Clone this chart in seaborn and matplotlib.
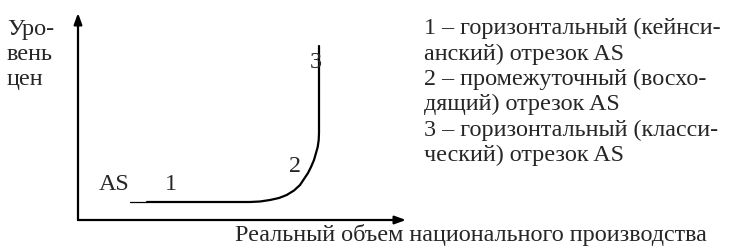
import matplotlib
matplotlib.use("Agg")
import matplotlib.pyplot as plt
import seaborn as sns
import pandas as pd

sns.set_theme(style="white")
plt.rcParams["font.family"] = ["Liberation Serif", "DejaVu Serif"]

# Aggregate supply curve (output, price level), origin at the axes corner
as_output = [69, 172, 182, 192, 201, 208.7, 216, 222, 226, 230, 233, 236, 238, 239.7, 240.7, 241, 241]
as_price = [18, 18, 18.5, 20, 22, 25, 29.5, 35, 41, 47, 53, 60, 67, 73, 80, 87, 174]
# short thin lead-in on the left of the curve
lead_output = [52, 69]
lead_price = [18, 18]

y_label_lines = ["Уро-", "вень", "цен"]
x_label = "Реальный объем национального производства"
legend_lines = [
    "1 – горизонтальный (кейнси-",
    "анский) отрезок AS",
    "2 – промежуточный (восхо-",
    "дящий) отрезок AS",
    "3 – горизонтальный (класси-",
    "ческий) отрезок AS",
]
segment_labels = ["1", "2", "3"]

FS = 17.4

fig = plt.figure(figsize=(7.3, 2.52), dpi=100)
ax = fig.add_axes([0, 0, 1, 1])
# axes origin sits at pixel (78, 220); one data unit = one pixel
ax.set_xlim(-78, 652)
ax.set_ylim(-32, 220)
ax.axis("off")

curve = pd.DataFrame({"output": as_output, "price": as_price})
lead = pd.DataFrame({"output": lead_output, "price": lead_price})
sns.lineplot(data=curve, x="output", y="price", sort=False, color="black",
             linewidth=1.6, ax=ax, estimator=None)
sns.lineplot(data=lead, x="output", y="price", sort=False, color="black",
             linewidth=0.9, ax=ax, estimator=None)

# coordinate axes with arrow heads
arrow = dict(arrowstyle="-|>,head_length=0.55,head_width=0.2", color="black",
             lw=1.6, shrinkA=0, shrinkB=0)
ax.annotate("", xy=(0, 207), xytext=(0, 0), arrowprops=arrow)
ax.annotate("", xy=(328, 0), xytext=(0, 0), arrowprops=arrow)

ax.text(21, 30, "AS", fontsize=FS, ha="left", va="baseline")
ax.text(87, 30, segment_labels[0], fontsize=FS, ha="left", va="baseline")
ax.text(211, 48, segment_labels[1], fontsize=FS, ha="left", va="baseline")
ax.text(232, 152, segment_labels[2], fontsize=FS, ha="left", va="baseline")

for i, line in enumerate(y_label_lines):
    ax.text(-71, 185 - 25 * i, line, fontsize=FS, ha="left", va="baseline")

ax.text(157, -21, x_label, fontsize=FS, ha="left", va="baseline")

legend_base = [186, 160, 135, 110, 84, 59]
for y, line in zip(legend_base, legend_lines):
    ax.text(346, y, line, fontsize=FS, ha="left", va="baseline")

fig.savefig("out.png", dpi=100, facecolor="white")
